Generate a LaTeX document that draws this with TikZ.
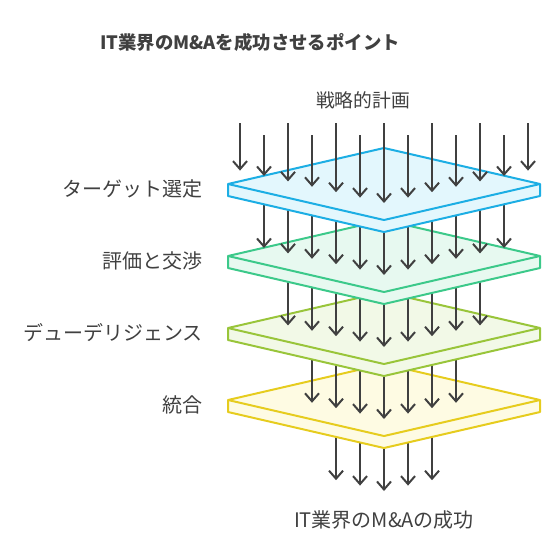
\documentclass[tikz,border=0pt]{standalone}
\usepackage{fontspec}
\setmainfont{Noto Sans CJK JP}
\usepackage{tikz}
\usetikzlibrary{arrows.meta}
\definecolor{edge1}{HTML}{1CAEE4}
\definecolor{face1}{HTML}{E3F7FD}
\definecolor{edge2}{HTML}{3CC98A}
\definecolor{face2}{HTML}{E7F9F0}
\definecolor{edge3}{HTML}{99C53A}
\definecolor{face3}{HTML}{F2F9E7}
\definecolor{edge4}{HTML}{E6CC1E}
\definecolor{face4}{HTML}{FEFBE3}
\definecolor{inkgray}{HTML}{404040}

\begin{document}
\begin{tikzpicture}[x=1pt,y=-1pt,
    flow/.style={draw=inkgray,line width=2pt,-{Straight Barb[length=8pt,width=14pt]}},
    plate/.style={line width=2pt,line join=round},
    layertext/.style={text=inkgray,anchor=east,inner sep=0pt,font=\fontsize{20}{22}\selectfont}]
    \useasboundingbox (0,0) rectangle (553,544);
    \begin{scope}
      \foreach \k/\p in {5/4,4/3,3/2,2/1,1/0} {
        \pgfmathsetmacro\cy{184+72*(\k-1)}
        \pgfmathtruncatemacro\m{7-\k}
        \foreach \i in {-\m,...,\m} {
          \pgfmathsetmacro\xx{384+24*\i}
          \pgfmathsetmacro\ty{\cy+19-5.4*abs(\i)}
          \ifnum\k=1
            \pgfmathsetmacro\sy{isodd(\i) ? 135 : 123}
          \else
            \pgfmathsetmacro\sy{\cy-72}
          \fi
          \coordinate (s\k\i) at (\xx,\sy);
          \coordinate (t\k\i) at (\xx,\ty);
          \draw[flow] (s\k\i) -- (t\k\i);
        }
        \ifnum\p>0
          \pgfmathsetmacro\py{184+72*(\p-1)}
          \draw[plate,draw=edge\p,fill=face\p] (228,\py) -- (384,\py-36) -- (540,\py)
            -- (540,\py+12) -- (384,\py+48) -- (228,\py+12) -- cycle;
          \draw[plate,draw=edge\p] (228,\py) -- (384,\py+36) -- (540,\py);
        \fi
      }
      \node[text=inkgray,font=\bfseries\fontsize{18.4}{20}\selectfont] (title) at (250,42) {IT業界のM\&Aを成功させるポイント};
      \node[text=inkgray,font=\fontsize{18.8}{20}\selectfont] (plan) at (363,100) {戦略的計画};
      \node[layertext] (target) at (203,189) {ターゲット選定};
      \node[layertext] (valuation) at (203,261) {評価と交渉};
      \node[layertext] (diligence) at (203,333) {デューデリジェンス};
      \node[layertext] (merger) at (203,405) {統合};
      \node[text=inkgray,font=\fontsize{20}{22}\selectfont] (success) at (384,520) {IT業界のM\&Aの成功};
    \end{scope}
  \end{tikzpicture}
\end{document}
